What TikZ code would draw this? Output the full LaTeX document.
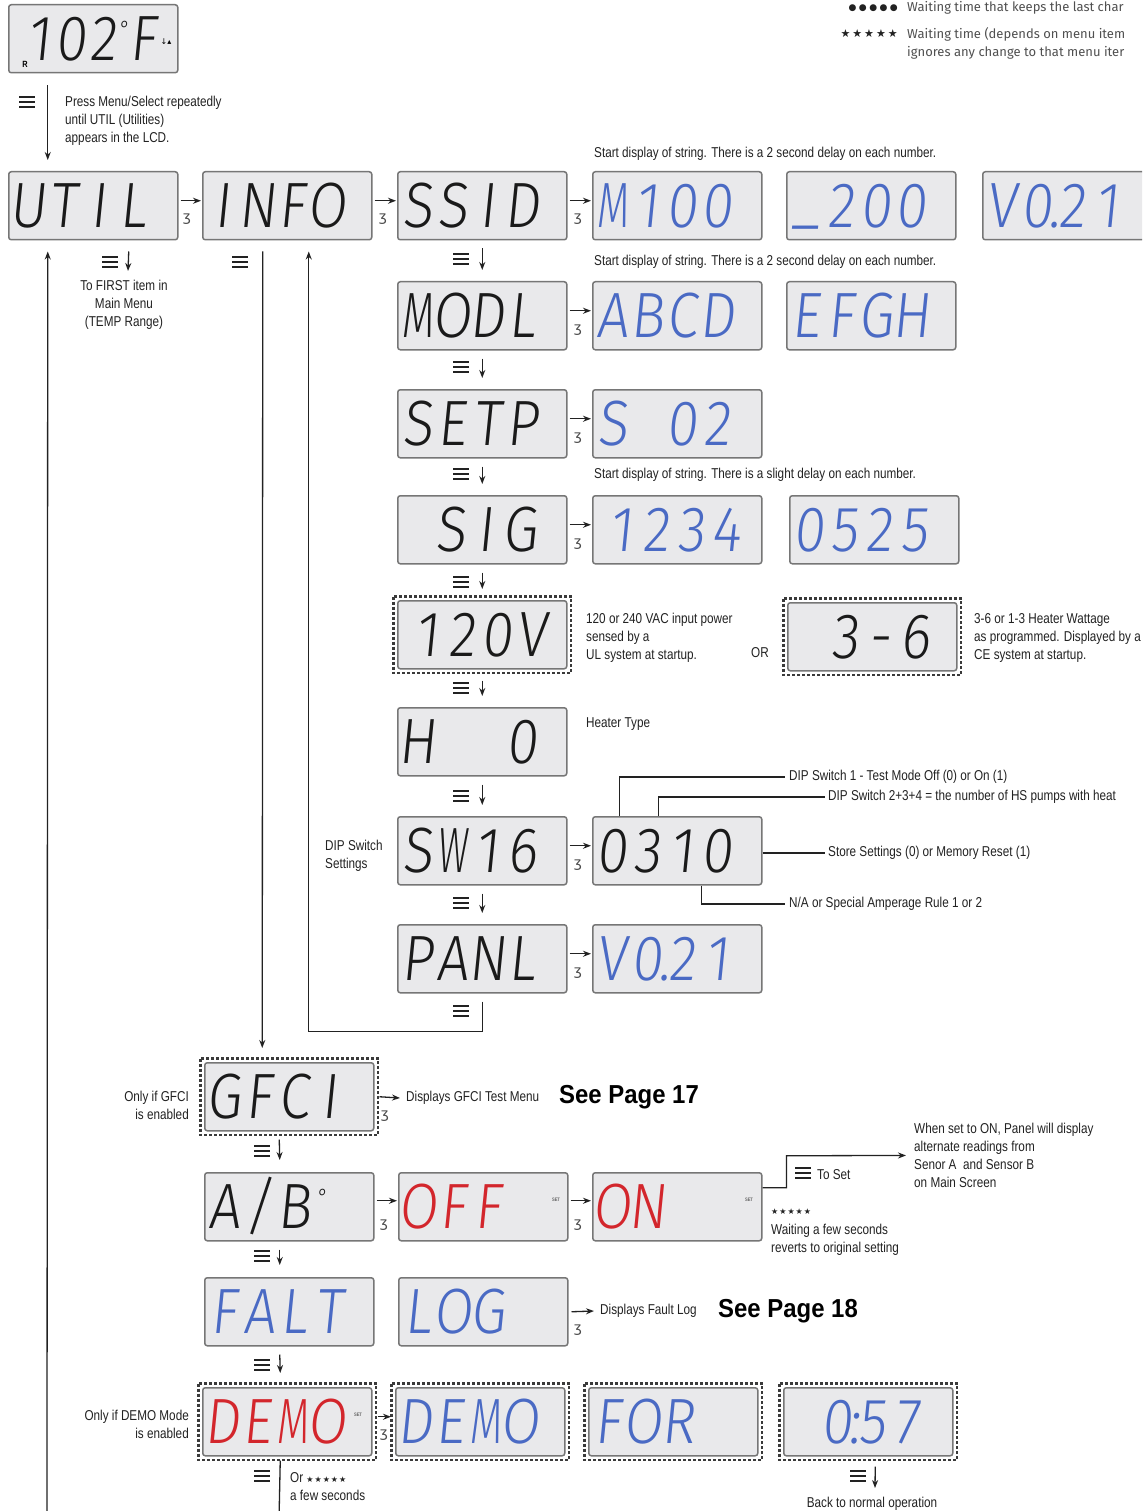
\documentclass[tikz,border=0pt]{standalone}
\usepackage{fontspec}
\usepackage{graphicx}
\setmainfont{Liberation Sans}[FakeStretch=0.82]
\IfFontExistsTF{Fira Sans Light}{%
  \newfontfamily\lcdfont{Fira Sans Light}[FakeSlant=0.1,FakeStretch=0.88]\def\lcdsz{64}}{%
  \IfFontExistsTF{DejaVu Sans ExtraLight}{%
    \newfontfamily\lcdfont{DejaVu Sans ExtraLight}[FakeSlant=0.1,FakeStretch=0.75]\def\lcdsz{60}}{%
    \newfontfamily\lcdfont{Liberation Mono}[FakeSlant=0.1,FakeStretch=0.9]\def\lcdsz{67}}}
\newfontfamily\legfont{Fira Sans}
\newfontfamily\symfont{DejaVu Sans}
\newfontfamily\seefont{Liberation Sans}[FakeStretch=0.92]
\usetikzlibrary{arrows.meta}
\definecolor{lcdfill}{HTML}{E9E9EB}
\definecolor{lcdedge}{HTML}{767676}
\definecolor{lcdblue}{HTML}{4A6AC4}
\definecolor{lcdred}{HTML}{D3262C}
\definecolor{lcdblack}{HTML}{1A1A1A}
\definecolor{notecol}{HTML}{222222}
\definecolor{leggray}{HTML}{505050}
\definecolor{linecol}{HTML}{222222}
\definecolor{frmcol}{HTML}{3A3A3A}
\newlength\cellw
\setlength\cellw{35pt}
\makeatletter
\def\cells#1{\cells@a#1\relax}
\def\cells@a#1{\ifx\relax#1\else\cells@b{#1}\expandafter\cells@a\fi}
\def\cells@b#1{\makebox[\cellw]{\ifx M#1\scalebox{0.74}[1]{#1}\else\ifx W#1\scalebox{0.66}[1]{#1}\else#1\fi\fi}}
\makeatother
\newcommand\menuic[1]{\begin{scope}[shift={#1}]\draw[mbar] (-8,-5) -- (8,-5) (-8,0) -- (8,0) (-8,5) -- (8,5);\end{scope}}
\newcommand\harr[3]{\draw[arr] ([xshift=2pt,yshift=#3]#1.east) -- ([xshift=-1pt,yshift=#3]#2.west);}
\newcommand\frmbox[1]{\draw[frm] ([shift={(-3.5,-3.5)}]#1.north west) rectangle ([shift={(3.5,3.5)}]#1.south east);}
\newcommand\smalldeg{{\fontsize{22}{22}\selectfont\raisebox{24pt}{°}}}
\begin{document}
\begin{tikzpicture}[x=1pt,y=-1pt,
  lcd/.style={draw=lcdedge, fill=lcdfill, line width=1.5pt, rounded corners=2.5pt,
    minimum width=169pt, minimum height=68pt, anchor=north west, inner xsep=2pt, inner ysep=0pt,
    text width=165pt, align=left, font=\lcdfont\fontsize{\lcdsz}{\lcdsz}\selectfont,
    text height=44pt, text depth=0pt, text=lcdblack},
  blu/.style={text=lcdblue}, rd/.style={text=lcdred},
  frm/.style={draw=frmcol, line width=2.6pt, dash pattern=on 3pt off 2pt},
  note/.style={font=\fontsize{14.3}{18}\selectfont, text=notecol, inner sep=0pt, align=left},
  leg/.style={font=\legfont\fontsize{13}{18}\selectfont, text=leggray, inner sep=0pt, align=left},
  arr/.style={line width=1.3pt, draw=linecol, -{Stealth[length=8pt,width=6pt]}},
  ln/.style={line width=1.3pt, draw=linecol},
  mbar/.style={line width=2.4pt, draw=linecol},
  see/.style={font=\seefont\bfseries\fontsize{26}{26}\selectfont, inner sep=0pt, text=black},
  tmr/.style={font=\symfont\fontsize{14}{14}\selectfont, inner sep=0pt, text=black!70},
  tiny/.style={font=\bfseries\fontsize{5}{5}\selectfont, inner sep=0pt, text=black!60},
  sym/.style={font=\symfont, inner sep=0pt, text=notecol}]
\useasboundingbox (0,0) rectangle (1142,1511);
\clip (0,0) rectangle (1142,1511);
\fill[white] (0,0) rectangle (1142,1511);

% legend
\node[sym, anchor=east, font=\symfont\fontsize{9}{9}\selectfont] (bul) at (898,8) {●\kern2.5pt●\kern2.5pt●\kern2.5pt●\kern2.5pt●};
\node[leg, anchor=west] (leg1) at (907,8) {Waiting time that keeps the last char};
\node[sym, anchor=east, font=\symfont\fontsize{11}{11}\selectfont] (st1) at (898,34) {★\kern2pt★\kern2pt★\kern2pt★\kern2pt★};
\node[leg, anchor=north west] (leg2) at (907,27) {Waiting time (depends on menu item\\ignores any change to that menu iter};

% top display
\node[lcd] (top) at (8,4) {\setlength\cellw{32pt}\hspace*{12pt}\cells{102}\smalldeg\kern-2pt\cells{F}};
\node[font=\bfseries\fontsize{9}{9}\selectfont, inner sep=0pt] (topR) at (25,64) {R};
\node[font=\symfont\fontsize{8}{8}\selectfont, inner sep=0pt] (topI) at (166,42) {↓▴};
\menuic{(27,102)}
\node[note, anchor=north west] (press) at (65,96) {Press Menu/Select repeatedly\\until UTIL (Utilities)\\appears in the LCD.};

% row 1
\node[lcd] (util) at (8,171) {\cells{UTIL}};
\node[lcd] (info) at (202,171) {\cells{INFO}};
\node[lcd] (ssid) at (397,171) {\cells{SSID}};
\node[lcd,blu] (m100) at (592,171) {\cells{M100}};
\node[lcd,blu] (s200) at (786,171) {\makebox[\cellw]{\raisebox{6pt}{\_}}\cells{200}};
\node[lcd,blu] (v021a) at (982,171) {\cells{V0}\makebox[0pt]{.}\cells{21}};
\node[note, anchor=north west] (str1) at (594,147) {Start display of string. There is a 2 second delay on each number.};

% SSID column
\node[lcd] (modl) at (397,281) {\cells{MODL}};
\node[lcd,blu] (abcd) at (592,281) {\cells{ABCD}};
\node[lcd,blu] (efgh) at (786,281) {\cells{EFGH}};
\node[note, anchor=north west] (str2) at (594,255) {Start display of string. There is a 2 second delay on each number.};
\node[lcd] (setp) at (397,389) {\cells{SETP}};
\node[lcd,blu] (s02) at (592,389) {\cells{S~02}};
\node[note, anchor=north west] (str3) at (594,468) {Start display of string. There is a slight delay on each number.};
\node[lcd] (sig) at (397,495) {\hspace*{33pt}\cells{SIG}};
\node[lcd,blu] (n1234) at (592,495) {\hspace*{9pt}\cells{1234}};
\node[lcd,blu] (n0525) at (789,495) {\cells{0525}};
\node[lcd] (v120) at (397,600) {\hspace*{10pt}\cells{120V}};
\frmbox{v120}
\node[note, anchor=north west] (ul) at (586,613) {120 or 240 VAC input power\\sensed by a\\UL system at startup.};
\node[note, anchor=west] (or) at (751,653) {OR};
\node[lcd] (h36) at (787,602) {\hspace*{38pt}\cells{3-6}};
\frmbox{h36}
\node[note, anchor=north west] (ce) at (974,613) {3-6 or 1-3 Heater Wattage\\as programmed. Displayed by a\\CE system at startup.};
\node[lcd] (heat) at (397,707) {\cells{H~~0}};
\node[note, anchor=north west] (heattxt) at (586,717) {Heater Type};
\node[lcd] (sw16) at (397,816) {\cells{SW16}};
\node[lcd] (dip) at (592,816) {\cells{0310}};
\node[note, anchor=north west] (dipset) at (325,840) {DIP Switch\\Settings};
\node[note, anchor=west] (dip1) at (789,777) {DIP Switch 1 - Test Mode Off (0) or On (1)};
\node[note, anchor=west] (dip2) at (828,797) {DIP Switch 2+3+4 = the number of HS pumps with heat};
\node[note, anchor=west] (dip3) at (828,853) {Store Settings (0) or Memory Reset (1)};
\node[note, anchor=west] (dip4) at (789,904) {N/A or Special Amperage Rule 1 or 2};
\node[lcd] (panl) at (397,924) {\cells{PANL}};
\node[lcd,blu] (v021b) at (592,924) {\cells{V0}\makebox[0pt]{.}\cells{21}};

% lower part
\node[lcd] (gfci) at (204,1062) {\cells{GFCI}};
\frmbox{gfci}
\node[note, anchor=north east, align=right] (gfcionly) at (189,1091) {Only if GFCI\\is enabled};
\node[note, anchor=west] (gfcitxt) at (406,1098) {Displays GFCI Test Menu};
\node[see, anchor=west] (see17) at (559,1097) {See Page 17};
\node[lcd] (ab) at (204,1172) {\cells{A/B}\kern5pt\smalldeg};
\node[lcd,rd] (off) at (398,1172) {\cells{OFF}};
\node[lcd,rd] (on) at (592,1172) {\cells{ON}};
\node[tiny] (set1) at (556,1200) {SET};
\node[tiny] (set2) at (749,1200) {SET};
\node[note, anchor=north west] (whenon) at (914,1123) {When set to ON, Panel will display\\alternate readings from\\Senor A\ \ and Sensor B\\on Main Screen};
\node[note, anchor=west] (toset) at (817,1175) {To Set};
\node[sym, anchor=west, font=\symfont\fontsize{8}{8}\selectfont] (st2) at (771,1212) {★\kern1pt★\kern1pt★\kern1pt★\kern1pt★};
\node[note, anchor=north west] (waitfew) at (771,1224) {Waiting a few seconds\\reverts to original setting};
\node[lcd,blu] (falt) at (204,1277) {\cells{FALT}};
\node[lcd,blu] (log) at (398,1277) {\cells{LOG}};
\node[note, anchor=west] (faultlog) at (600,1311) {Displays Fault Log};
\node[see, anchor=west] (see18) at (718,1311) {See Page 18};
\node[lcd,rd] (demoa) at (202,1387) {\cells{DEMO}};
\frmbox{demoa}
\node[tiny] (set3) at (358,1415) {SET};
\node[lcd,blu] (demob) at (395,1387) {\cells{DEMO}};
\frmbox{demob}
\node[lcd,blu] (nfor) at (588,1387) {\cells{FOR}};
\frmbox{nfor}
\node[lcd,blu] (t057) at (783,1387) {\hspace*{34pt}\cells{0}\makebox[0pt]{:}\cells{57}};
\frmbox{t057}
\node[note, anchor=north east, align=right] (demoonly) at (189,1410) {Only if DEMO Mode\\is enabled};
\node[note, anchor=north west] (orfew) at (290,1472) {Or {\symfont\fontsize{8}{8}\selectfont ★\kern1pt★\kern1pt★\kern1pt★\kern1pt★}\\a few seconds};
\node[note, anchor=north, align=center] (back) at (872,1497) {Back to normal operation};
\node[note, anchor=north, align=center] (first) at (124,280) {To FIRST item in\\Main Menu\\(TEMP Range)};

% menu icons
\menuic{(110,262)}
\menuic{(240,262)}
\foreach \yy in {259,367,474,582,688,796,903,1011} {\menuic{(461,\yy)}}
\menuic{(262,1151)}
\menuic{(262,1256)}
\menuic{(262,1365)}
\menuic{(262,1476)}
\menuic{(858,1476)}
\menuic{(803,1173)}

% connectors
\draw[arr] ([xshift=-45.5pt,yshift=-12pt]top.south) -- ([xshift=-45.5pt,yshift=11pt]util.north);
\coordinate (leftbot) at (47,1520);
\draw[arr] (leftbot) -- ([xshift=-45.5pt,yshift=-11pt]util.south);
\draw[arr] ([xshift=35.5pt,yshift=-11pt]util.south) -- ([xshift=4pt,yshift=9pt]first.north);
\draw[arr] ([xshift=-24.5pt,yshift=-11pt]info.south) -- ([xshift=-27pt,yshift=14pt]gfci.north);
\draw[arr] ([yshift=-8pt]panl.south) -- ++(0,30) -| ([xshift=21.5pt,yshift=-11pt]info.south);

\harr{util}{info}{5pt}
\harr{info}{ssid}{5pt}
\harr{ssid}{m100}{5pt}
\harr{modl}{abcd}{5pt}
\harr{setp}{s02}{5pt}
\harr{sig}{n1234}{5pt}
\harr{sw16}{dip}{5pt}
\harr{panl}{v021b}{5pt}
\harr{ab}{off}{6pt}
\harr{off}{on}{6pt}
\draw[arr] ([xshift=5pt,yshift=5pt]demoa.east) -- ([xshift=-4pt,yshift=5pt]demob.west);
\draw[arr] ([xshift=5pt]gfci.east) -- ([xshift=-6pt]gfcitxt.west);
\draw[arr] ([xshift=3pt]log.east) -- ([xshift=-6pt]faultlog.west);
\draw[arr] ([yshift=19pt]on.east) -- ++(24,0) -- ++(0,-32) -- ([xshift=-8pt]whenon.west);

\draw[arr] ([yshift=-8pt]ssid.south) -- ([yshift=11pt]modl.north);
\draw[arr] ([yshift=-8pt]modl.south) -- ([yshift=11pt]setp.north);
\draw[arr] ([yshift=-8pt]setp.south) -- ([yshift=11pt]sig.north);
\draw[arr] ([yshift=-8pt]sig.south) -- ([yshift=11pt]v120.north);
\draw[arr] ([yshift=-11pt]v120.south) -- ([yshift=11pt]heat.north);
\draw[arr] ([yshift=-8pt]heat.south) -- ([yshift=11pt]sw16.north);
\draw[arr] ([yshift=-8pt]sw16.south) -- ([yshift=11pt]panl.north);
\draw[arr] ([xshift=-10pt,yshift=-8pt]gfci.south) -- ([xshift=-9.5pt,yshift=12pt]ab.north);
\draw[arr] ([xshift=-9.5pt,yshift=-8pt]ab.south) -- ([xshift=-9.5pt,yshift=12pt]falt.north);
\draw[arr] ([xshift=-9.5pt,yshift=-8pt]falt.south) -- ([xshift=-7pt,yshift=14pt]demoa.north);
\coordinate (demobot) at (279,1520);
\draw[ln] ([xshift=-7pt,yshift=-4pt]demoa.south) -- (demobot);
\draw[arr] ([xshift=7pt,yshift=-10pt]t057.south) -- ([xshift=3pt,yshift=9pt]back.north);

% DIP leaders
\draw[ln] ([xshift=-58pt]dip.north) |- ([xshift=-4pt]dip1.west);
\draw[ln] ([xshift=-19pt]dip.north) |- ([xshift=-3pt]dip2.west);
\draw[ln] (dip.east |- dip3.west) -- ([xshift=-3pt]dip3.west);
\draw[ln] ([xshift=24pt]dip.south) |- ([xshift=-4pt]dip4.west);

% timer marks
\node[tmr] (tm1) at (187,219) {ʒ};
\node[tmr] (tm2) at (383,219) {ʒ};
\node[tmr] (tm3) at (578,219) {ʒ};
\node[tmr] (tm4) at (578,330) {ʒ};
\node[tmr] (tm5) at (578,438) {ʒ};
\node[tmr] (tm6) at (578,544) {ʒ};
\node[tmr] (tm7) at (578,865) {ʒ};
\node[tmr] (tm8) at (578,973) {ʒ};
\node[tmr] (tm9) at (385,1116) {ʒ};
\node[tmr] (tm10) at (384,1225) {ʒ};
\node[tmr] (tm11) at (578,1225) {ʒ};
\node[tmr] (tm12) at (578,1330) {ʒ};
\node[tmr] (tm13) at (384,1435) {ʒ};
\end{tikzpicture}
\end{document}
